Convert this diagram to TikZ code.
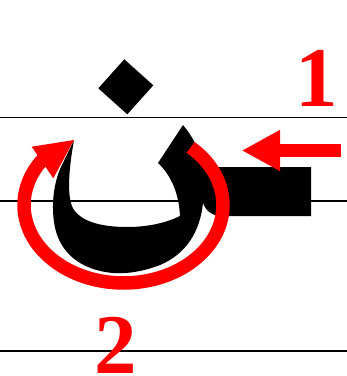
\documentclass[tikz,border=0pt]{standalone}
\usepackage{fontspec}
\setmainfont{Liberation Serif}
\usetikzlibrary{calc,arrows.meta}
\begin{document}
\begin{tikzpicture}[x=1pt,y=-1pt,
  guide/.style={line width=1.6pt,draw=black},
  ink/.style={fill=black},
  redstroke/.style={draw=red,line width=13.5pt},
  num/.style={text=red,font=\fontsize{85}{85}\selectfont\bfseries,inner sep=0pt,anchor=base}]
\useasboundingbox (0,0) rectangle (347,376);
% guide lines
\coordinate (g1w) at (0,117.3);   \coordinate (g1e) at (347,117.3);
\coordinate (g2w) at (0,201);     \coordinate (g2e) at (347,201);
\coordinate (g3w) at (0,350.7);   \coordinate (g3e) at (347,350.7);
\draw[guide] (g1w) -- (g1e);
\draw[guide] (g2w) -- (g2e);
\draw[guide] (g3w) -- (g3e);
% dot
\fill[ink] (124.3,59.3) -- (153.3,85.3) -- (127.3,114.3) -- (98.3,88.3) -- cycle;
% letter body
\fill[ink] (74,140)
  .. controls (69,168) and (66,198) .. (74,210)
  .. controls (84,224) and (108,227) .. (127,227)
  .. controls (150,227) and (168,222) .. (180,216)
  .. controls (179,195) and (172,176) .. (158,163)
  -- (183,125)
  .. controls (193,137) and (200,150) .. (203,167)
  -- (311,167) -- (311,216) -- (222,216)
  .. controls (212,216) and (206,211) .. (203,203)
  .. controls (200,232) and (186,254) .. (160,265)
  .. controls (142,272) and (125,274) .. (113,273)
  .. controls (80,270) and (58,252) .. (54,222)
  .. controls (51,200) and (55,180) .. (61,167)
  -- cycle;
% circular arrow
\coordinate (c) at (123.5,205);
\coordinate (arcstart) at ($(c)+(-47.6:99.5 and 78)$);
\draw[redstroke] (arcstart) arc[start angle=-47.6,end angle=216,x radius=99.5,y radius=78];
\coordinate (tipA) at (74,140);
\coordinate (baseA1) at (31.7,146.7);
\coordinate (baseA2) at (53.3,178.3);
\fill[red] (tipA) -- (baseA1) -- (baseA2) -- cycle;
% straight arrow
\coordinate (sa) at (341,150.5);
\coordinate (sb) at (241.7,150.5);
\draw[draw=red,line width=12.4pt,-{Triangle[length=38.3pt,width=38.3pt]}] (sa) -- (sb);
% numbers
\node[num] (one) at (317,106) {1};
\node[num] (two) at (116,373.5) {2};
\end{tikzpicture}
\end{document}
